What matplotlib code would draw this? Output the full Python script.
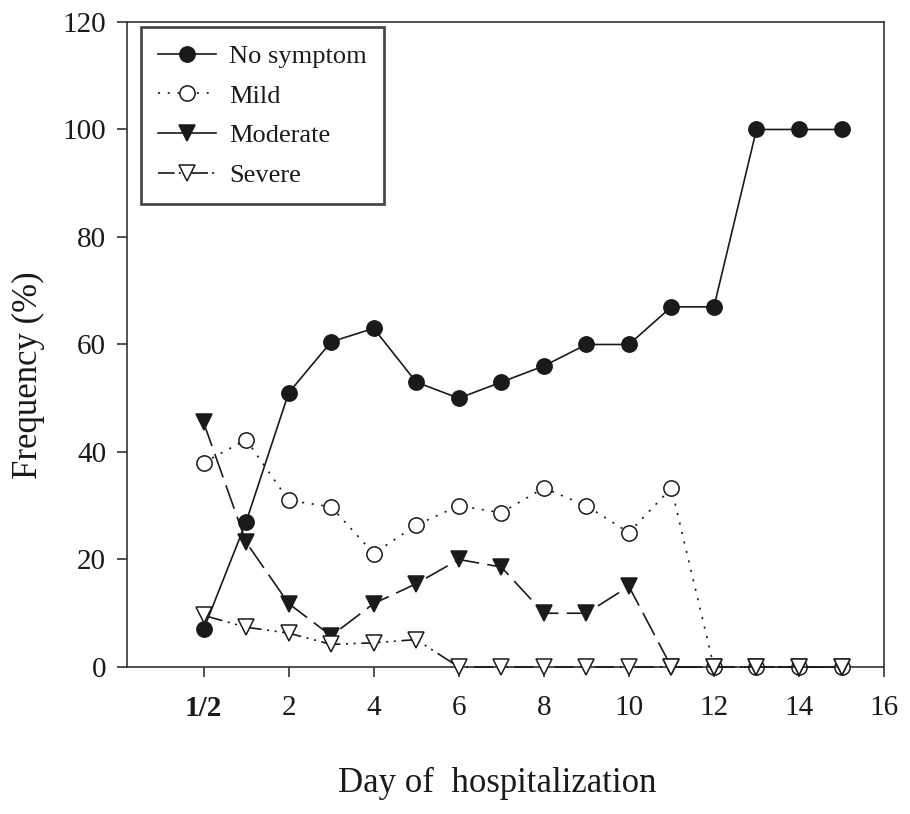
import matplotlib
matplotlib.use('Agg')
import matplotlib.pyplot as plt
from matplotlib.lines import Line2D


days = list(range(16))
day_labels = ['1/2', '2', '4', '6', '8', '10', '12', '14', '16']
day_ticks = [0, 2, 4, 6, 8, 10, 12, 14, 16]

no_symptom = [7, 27, 51, 60.5, 63, 53, 50, 53, 56, 60, 60, 67, 67, 100, 100, 100]
mild = [38, 42.3, 31, 29.8, 21.1, 26.4, 30, 28.7, 33.3, 30, 25, 33.3, 0, 0, 0, 0]
moderate = [45.5, 23.2, 11.8, 5.8, 11.8, 15.5, 20, 18.6, 10, 10, 15, 0, 0, 0, 0, 0]
severe = [9.6, 7.4, 6.3, 4.2, 4.5, 5.1, 0, 0, 0, 0, 0, 0, 0, 0, 0, 0]

plt.rcParams['font.family'] = ['Liberation Serif', 'DejaVu Serif']
plt.rcParams['lines.scale_dashes'] = False

ink = '#1a1a1a'
lw = 1.2
ms = 11

series = [
    ('No symptom', no_symptom, dict(ls='-', marker='o', mfc=ink), '-'),
    ('Mild', mild, dict(ls=(0, (1.5, 5.5)), marker='o', mfc='white'), (0, (1.5, 5.5))),
    ('Moderate', moderate, dict(ls=(0, (18, 6)), marker='v', mfc=ink), '-'),
    ('Severe', severe, dict(ls=(0, (14, 4, 1.5, 4, 1.5, 4)), marker='v', mfc='white'),
     (0, (12, 3, 1.5, 3, 1.5, 3))),
]

fig = plt.figure(figsize=(9.1, 8.14), dpi=100)
ax = fig.add_axes([0.1396, 0.1806, 0.8319, 0.7924])

handles = []
for i, (name, vals, style, leg_ls) in enumerate(series):
    ax.plot(days, vals, color=ink, lw=lw, ms=ms, mec=ink, mew=1.1,
            zorder=3 + i, clip_on=False, **style)
    # legend keys use plain lines for some series
    leg_style = dict(style)
    leg_style['ls'] = leg_ls
    handles.append(Line2D([], [], color=ink, lw=lw, ms=ms, mec=ink, mew=1.1,
                          **leg_style))

ax.set_xlim(-1.8, 16)
ax.set_ylim(0, 120)
ax.set_xticks(day_ticks)
ax.set_xticklabels(day_labels)
ax.get_xticklabels()[0].set_fontweight('bold')
ax.set_yticks(range(0, 121, 20))

for side in ax.spines.values():
    side.set_linewidth(1.2)
    side.set_color('#333333')

ax.tick_params(axis='both', direction='out', length=7, width=1.2,
               color='#333333', labelsize=21, labelcolor=ink)
ax.tick_params(axis='x', pad=13)
ax.tick_params(axis='y', pad=8)

ax.set_xlabel('Day of  hospitalization', fontsize=25, color=ink)
ax.set_ylabel('Frequency (%)', fontsize=25, color=ink)
ax.xaxis.set_label_coords(0.489, -0.155)
ax.yaxis.set_label_coords(-0.108, 0.453)

leg = ax.legend(handles, [s[0] for s in series], loc='upper left',
                bbox_to_anchor=(0.0185, 0.992), borderaxespad=0,
                fontsize=19, frameon=True, fancybox=False,
                handlelength=2.2, handletextpad=0.5, labelspacing=0.62,
                borderpad=0.65)
leg.get_frame().set_edgecolor(ink)
leg.get_frame().set_linewidth(2)
for t in leg.get_texts():
    t.set_color(ink)

fig.savefig('out.png', dpi=100, facecolor='white')
